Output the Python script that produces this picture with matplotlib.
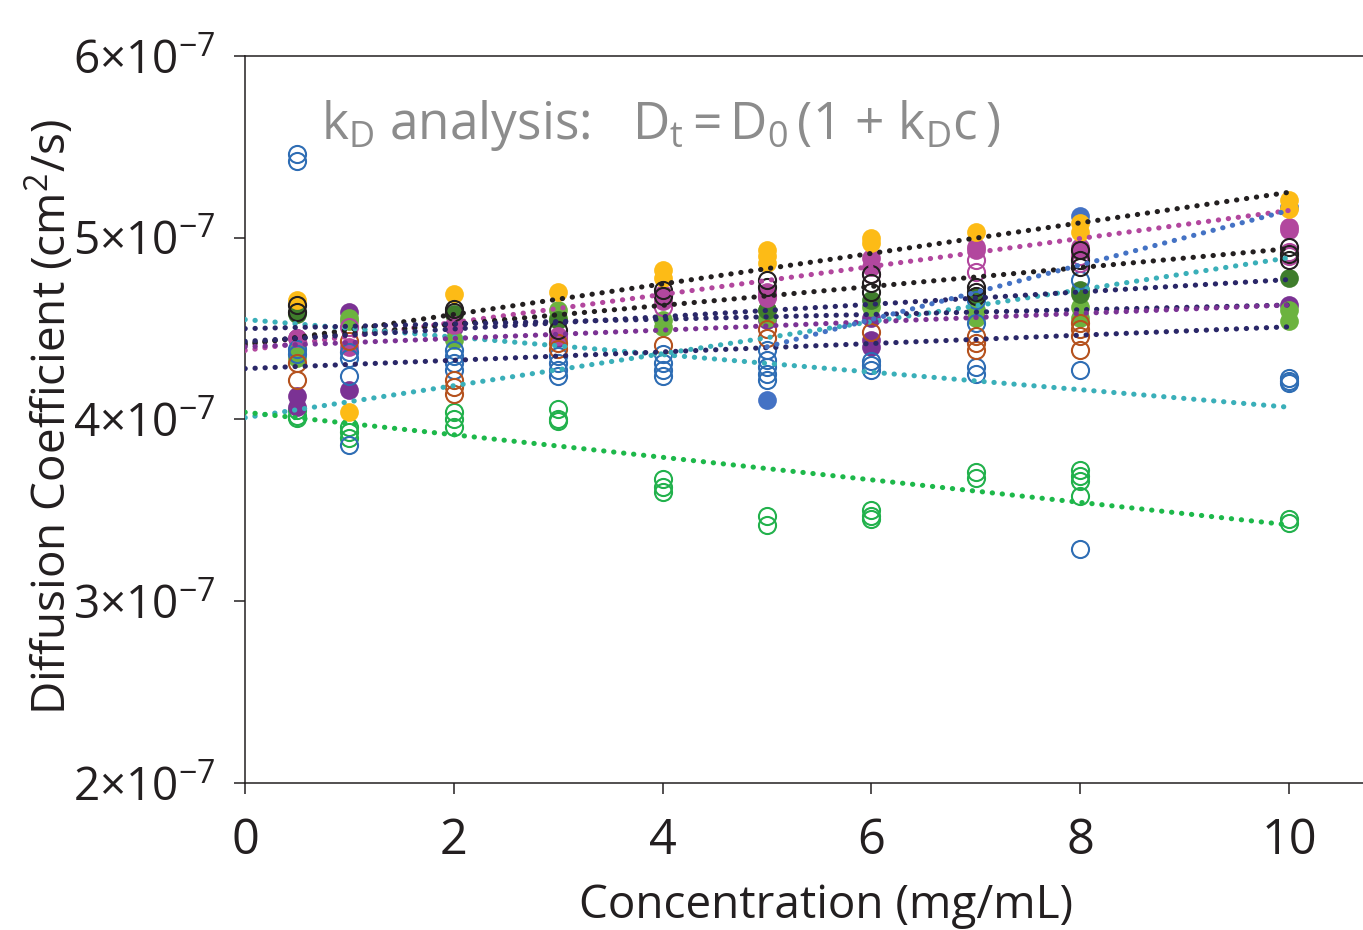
import matplotlib
matplotlib.use('Agg')
import matplotlib.pyplot as plt
import numpy as np

plt.rcParams['font.family'] = ['Open Sans', 'DejaVu Sans']
plt.rcParams['mathtext.fontset'] = 'custom'
plt.rcParams['mathtext.rm'] = 'Open Sans'
plt.rcParams['mathtext.it'] = 'Open Sans'

SCALE = 1e-7

# diffusion coefficients in units of 1e-7 cm^2/s, one list pair per sample
green_open_x = [0.5, 0.5, 0.5, 1, 1, 1, 2, 2, 2, 3, 3, 3, 4, 4, 4, 5, 5, 6, 6, 6, 7, 7, 8, 8, 8, 8, 10, 10]
green_open_y = [4.05, 4.02, 4.01, 3.96, 3.93, 3.90, 4.04, 4.00, 3.96, 4.06, 4.00, 3.99, 3.67, 3.63, 3.60,
                3.47, 3.42, 3.50, 3.47, 3.45, 3.71, 3.68, 3.72, 3.69, 3.66, 3.58, 3.45, 3.43]

blue_open_x = [0.5, 0.5, 0.5, 0.5, 1, 1, 1, 1, 2, 2, 2, 2, 3, 3, 3, 3, 4, 4, 4, 4, 5, 5, 5, 5, 5,
               6, 6, 6, 7, 7, 7, 7, 8, 8, 8, 10, 10, 10]
blue_open_y = [5.46, 5.42, 4.39, 4.36, 4.37, 4.34, 4.24, 3.86, 4.38, 4.35, 4.31, 4.27, 4.35, 4.31, 4.27, 4.24,
               4.36, 4.31, 4.27, 4.24, 4.38, 4.33, 4.29, 4.25, 4.22, 4.32, 4.30, 4.27, 4.66, 4.53, 4.29, 4.25,
               4.77, 4.27, 3.29, 4.23, 4.21, 4.20]

blue_fill_x = [5, 8, 10]
blue_fill_y = [4.11, 5.12, 5.17]

brown_open_x = [0.5, 0.5, 1, 2, 2, 2, 3, 3, 4, 5, 5, 6, 7, 7, 7, 8, 8, 8, 8]
brown_open_y = [4.31, 4.22, 4.43, 4.22, 4.18, 4.14, 4.42, 4.39, 4.41, 4.50, 4.45, 4.48,
                4.46, 4.42, 4.38, 4.53, 4.50, 4.46, 4.38]

purple_fill_x = [0.5, 0.5, 0.5, 1, 1, 2, 3, 5, 6, 6, 6, 10]
purple_fill_y = [4.45, 4.13, 4.07, 4.59, 4.16, 4.51, 4.45, 4.55, 4.56, 4.44, 4.40, 4.63]

lgreen_fill_x = [0.5, 0.5, 0.5, 1, 1, 2, 3, 3, 4, 4, 5, 5, 6, 7, 7, 8, 8, 10, 10]
lgreen_fill_y = [4.59, 4.38, 4.34, 4.56, 4.54, 4.44, 4.60, 4.56, 4.51, 4.55, 4.60, 4.56, 4.62,
                 4.60, 4.56, 4.62, 4.56, 4.60, 4.54]

dgreen_fill_x = [0.5, 2, 3, 5, 6, 7, 8, 8, 10]
dgreen_fill_y = [4.58, 4.58, 4.55, 4.60, 4.66, 4.68, 4.71, 4.69, 4.78]

black_open_x = [0.5, 0.5, 2, 2, 3, 4, 4, 5, 5, 6, 6, 6, 7, 7, 7, 8, 8, 8, 10, 10, 10]
black_open_y = [4.63, 4.59, 4.61, 4.59, 4.49, 4.71, 4.68, 4.77, 4.73, 4.80, 4.75, 4.70,
                4.73, 4.70, 4.68, 4.93, 4.88, 4.84, 4.95, 4.91, 4.88]

magenta_fill_x = [0.5, 1, 2, 3, 4, 4, 5, 5, 6, 6, 7, 7, 8, 8, 10, 10]
magenta_fill_y = [4.45, 4.40, 4.52, 4.46, 4.69, 4.65, 4.70, 4.67, 4.89, 4.84, 4.95, 4.93, 4.95, 4.93, 5.06, 5.04]

magenta_open_x = [1, 4, 5, 6, 7, 7, 8, 8, 10, 10]
magenta_open_y = [4.51, 4.62, 4.68, 4.80, 4.88, 4.81, 4.90, 4.86, 4.92, 4.90]

yellow_fill_x = [0.5, 1, 2, 3, 4, 4, 5, 5, 5, 6, 6, 7, 8, 8, 10, 10]
yellow_fill_y = [4.66, 4.04, 4.69, 4.70, 4.82, 4.78, 4.93, 4.90, 4.86, 5.00, 4.97, 5.03, 5.08, 5.03, 5.21, 5.16]

# linear kD fits: value at start and end concentration
fit_colors = ['#231F20', '#B2479E', '#231F20', '#3AAFB9', '#3AAFB9', '#2A2768', '#2A2768',
              '#7B3294', '#2A2768', '#1DB84A', '#4472C4']
fit_c0 = [0, 0, 0, 0, 0, 0, 0, 0, 0, 0, 5]
fit_c1 = [10, 10, 10, 10, 9.95, 10, 10, 10, 10, 10, 10]
fit_d0 = [4.41, 4.38, 4.42, 4.01, 4.55, 4.43, 4.50, 4.40, 4.28, 4.04, 4.40]
fit_d1 = [5.25, 5.15, 4.94, 4.89, 4.07, 4.77, 4.63, 4.63, 4.51, 3.42, 5.15]

x_ticks = [0, 2, 4, 6, 8, 10]
y_ticks = [2, 3, 4, 5, 6]
y_tick_labels = [r'2$\mathregular{\times}$10$^{\mathregular{-7}}$', r'3$\mathregular{\times}$10$^{\mathregular{-7}}$',
                 r'4$\mathregular{\times}$10$^{\mathregular{-7}}$', r'5$\mathregular{\times}$10$^{\mathregular{-7}}$',
                 r'6$\mathregular{\times}$10$^{\mathregular{-7}}$']

'''
    Draw one sample as open or filled circles
'''
def plotSample(ax, xs, ys, color, filled):
    ys = np.array(ys) * SCALE
    if filled:
        ax.plot(xs, ys, 'o', ms=13.5, mfc=color, mec=color, mew=0, ls='none', zorder=3)
    else:
        ax.plot(xs, ys, 'o', ms=12.3, mfc='none', mec=color, mew=1.5, ls='none', zorder=3)


fig = plt.figure(figsize=(13.63, 9.30), dpi=100)
ax = fig.add_axes([245 / 1363, 1 - 783 / 930, 1 - 245 / 1363, (783 - 56) / 930])

plotSample(ax, green_open_x, green_open_y, '#22B14C', False)
plotSample(ax, purple_fill_x, purple_fill_y, '#7B3294', True)
plotSample(ax, blue_fill_x, blue_fill_y, '#4472C4', True)
plotSample(ax, lgreen_fill_x, lgreen_fill_y, '#6CB33F', True)
plotSample(ax, dgreen_fill_x, dgreen_fill_y, '#3F7D2C', True)
plotSample(ax, magenta_fill_x, magenta_fill_y, '#B2479E', True)
plotSample(ax, yellow_fill_x, yellow_fill_y, '#FDBB16', True)
plotSample(ax, blue_open_x, blue_open_y, '#2E6DB4', False)
plotSample(ax, brown_open_x, brown_open_y, '#B5521E', False)
plotSample(ax, magenta_open_x, magenta_open_y, '#B2479E', False)
plotSample(ax, black_open_x, black_open_y, '#231F20', False)

for i in range(len(fit_colors)):
    ax.plot([fit_c0[i], fit_c1[i]], [fit_d0[i] * SCALE, fit_d1[i] * SCALE], color=fit_colors[i],
            lw=3.7, ls=(0, (0.05, 1.9)), dash_capstyle='round', zorder=4)

ax.set_xlim(0, (1363 - 245) / 104.4)
ax.set_ylim(2 * SCALE, 6 * SCALE)
ax.set_xticks(x_ticks)
ax.set_xticklabels([str(t) for t in x_ticks])
ax.set_yticks([t * SCALE for t in y_ticks])
ax.set_yticklabels(y_tick_labels)

for s in ['left', 'bottom', 'top']:
    ax.spines[s].set_linewidth(1.1)
    ax.spines[s].set_color('#231F20')
ax.spines['right'].set_visible(False)
ax.tick_params(axis='both', direction='out', length=8, width=1.1, color='#231F20',
               labelsize=33, labelcolor='#231F20', pad=13)
ax.tick_params(axis='x', labelsize=35, pad=16)

ax.text(0.068, 0.905, r'k$_\mathregular{D}$ analysis:   D$_\mathregular{t}$$\,$=$\,$D$_\mathregular{0}$$\,$(1 + k$_\mathregular{D}$c$\,$)',
        transform=ax.transAxes, fontsize=37, color='#8C8C8C', ha='left', va='center')

fig.text(50 / 1363, 1 - 417 / 930, r'Diffusion Coefficient (cm$^\mathregular{2}$/s)', rotation=90,
         ha='center', va='center', fontsize=33, color='#231F20')
fig.text(826 / 1363, 0.013, 'Concentration (mg/mL)', ha='center', va='baseline', fontsize=33, color='#231F20')

fig.savefig('out.png', dpi=100)
